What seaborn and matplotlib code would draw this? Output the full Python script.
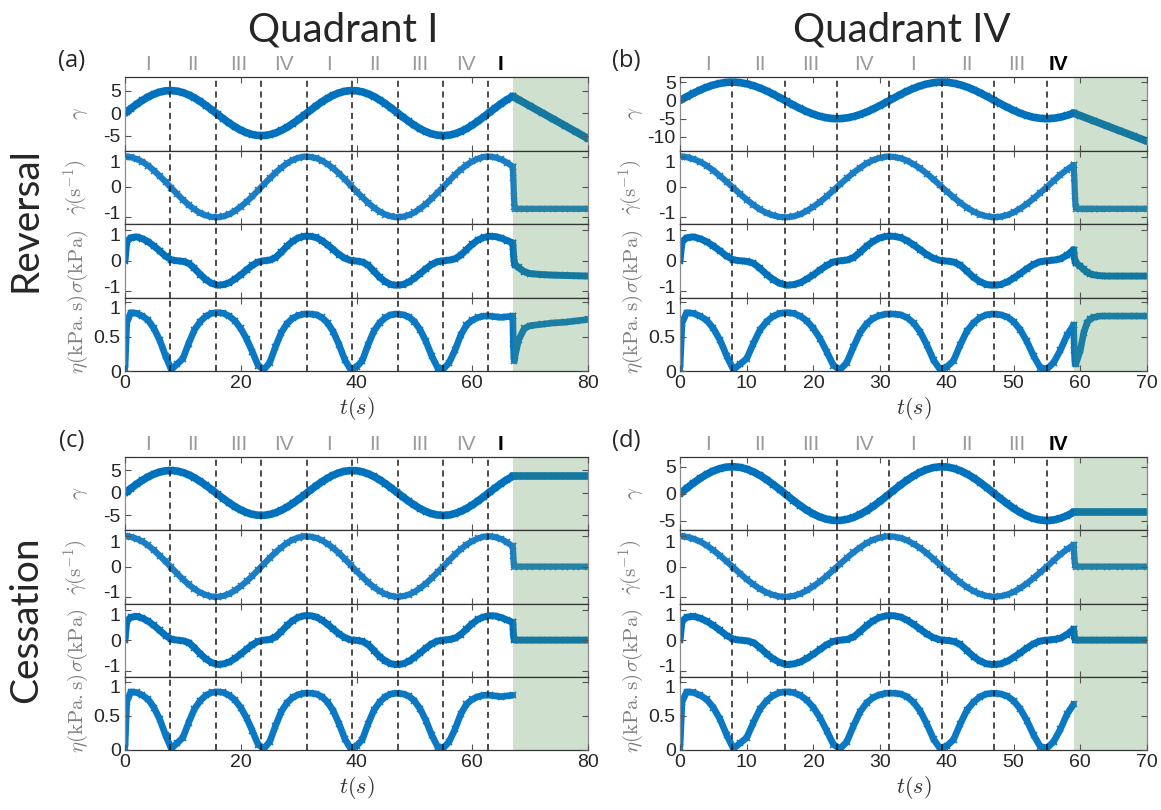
import numpy as np
import matplotlib
matplotlib.use("Agg")
import matplotlib.pyplot as plt
import matplotlib.transforms as mtransforms
from matplotlib.ticker import FuncFormatter
import seaborn as sns

# ---- oscillatory part, shared by all four panels ----
t_cycle = np.r_[0.0, 0.3, np.arange(1, 68)]

gamma_cycle = [0.00, 0.30,
               0.99, 1.95, 2.82, 3.59, 4.21, 4.66, 4.93, 5.00, 4.87,
               4.55, 4.04, 3.38, 2.58, 1.67, 0.71, -0.29, -1.28, -2.21, -3.06,
               -3.78, -4.36, -4.76, -4.97, -4.98, -4.79, -4.42, -3.86, -3.16, -2.32,
               -1.40, -0.42, 0.58, 1.56, 2.47, 3.28, 3.97, 4.49, 4.84, 4.99,
               4.95, 4.70, 4.27, 3.67, 2.92, 2.06, 1.11, 0.12, -0.87, -1.83,
               -2.72, -3.50, -4.14, -4.62, -4.90, -5.00, -4.90, -4.59, -4.11, -3.47,
               -2.68, -1.79, -0.83, 0.17, 1.15, 2.10, 2.96, 3.70]

gdot_cycle = [1.00, 1.00,
              0.98, 0.92, 0.83, 0.70, 0.54, 0.36, 0.17, -0.03, -0.23,
              -0.42, -0.59, -0.74, -0.86, -0.94, -0.99, -1.00, -0.97, -0.90, -0.79,
              -0.65, -0.49, -0.31, -0.11, 0.09, 0.28, 0.47, 0.63, 0.78, 0.89,
              0.96, 1.00, 0.99, 0.95, 0.87, 0.75, 0.61, 0.44, 0.25, 0.05,
              -0.15, -0.34, -0.52, -0.68, -0.81, -0.91, -0.97, -1.00, -0.98, -0.93,
              -0.84, -0.71, -0.56, -0.38, -0.19, 0.00, 0.20, 0.40, 0.57, 0.72,
              0.84, 0.93, 0.99, 1.00, 0.97, 0.91, 0.80, 0.67]

sigma_cycle = [0.00, 0.62,
               0.75, 0.78, 0.72, 0.62, 0.48, 0.32, 0.15, 0.03, 0.00,
               -0.02, -0.08, -0.25, -0.45, -0.62, -0.74, -0.80, -0.78, -0.72, -0.60,
               -0.46, -0.30, -0.15, -0.04, 0.00, 0.02, 0.10, 0.28, 0.48, 0.64,
               0.75, 0.80, 0.80, 0.76, 0.66, 0.52, 0.36, 0.20, 0.08, 0.01,
               -0.01, -0.04, -0.14, -0.34, -0.54, -0.69, -0.78, -0.80, -0.78, -0.70,
               -0.57, -0.42, -0.26, -0.12, -0.03, 0.00, 0.02, 0.06, 0.18, 0.36,
               0.54, 0.68, 0.76, 0.80, 0.79, 0.74, 0.66, 0.58]

eta_cycle = [0.05, 0.70,
             0.85, 0.84, 0.80, 0.74, 0.62, 0.45, 0.22, 0.02, 0.10,
             0.18, 0.40, 0.60, 0.72, 0.80, 0.84, 0.85, 0.84, 0.80, 0.73,
             0.62, 0.47, 0.28, 0.08, 0.02, 0.12, 0.35, 0.56, 0.69, 0.77,
             0.81, 0.83, 0.83, 0.82, 0.78, 0.70, 0.57, 0.38, 0.16, 0.02,
             0.06, 0.15, 0.38, 0.58, 0.70, 0.78, 0.82, 0.83, 0.82, 0.79,
             0.72, 0.60, 0.43, 0.22, 0.05, 0.03, 0.12, 0.30, 0.52, 0.67,
             0.74, 0.78, 0.80, 0.80, 0.79, 0.78, 0.79, 0.80]

# switch times (start of shaded region)
t_switch_q1 = 67.0
t_switch_q4 = 59.0

# quarter-period marks
phase_marks_q1 = [7.85, 15.7, 23.55, 31.4, 39.25, 47.1, 54.95, 62.8]
phase_marks_q4 = [7.85, 15.7, 23.55, 31.4, 39.25, 47.1, 54.95]

quad_labels_q1 = ["I", "II", "III", "IV", "I", "II", "III", "IV", "I"]
quad_pos_q1 = [3.9, 11.8, 19.6, 27.5, 35.3, 43.2, 51.0, 58.9, 64.9]
quad_labels_q4 = ["I", "II", "III", "IV", "I", "II", "III", "IV"]
quad_pos_q4 = [4.2, 12.0, 19.6, 27.5, 35.0, 43.0, 50.5, 56.8]

# ---- after the switch ----
# (a) reversal, quadrant I
rev1_t_gamma = [67.0, 68, 70, 72, 74, 76, 78, 80]
rev1_gamma = [3.70, 2.98, 1.54, 0.10, -1.34, -2.78, -4.22, -5.66]
rev1_t = [67.0, 67.1, 67.2, 67.3, 67.4, 68, 69, 70, 72, 74, 76, 78, 80]
rev1_gdot = [0.67, 0.30, -0.30, -0.65, -0.72, -0.72, -0.72, -0.72, -0.72, -0.72, -0.72, -0.72, -0.72]
rev1_sigma = [0.58, 0.30, 0.05, -0.08, -0.14, -0.22, -0.36, -0.42, -0.45, -0.47, -0.48, -0.49, -0.50]
rev1_eta = [0.80, 0.40, 0.18, 0.15, 0.22, 0.45, 0.62, 0.66, 0.68, 0.70, 0.71, 0.73, 0.75]

# (b) reversal, quadrant IV
rev4_t_gamma = [59.0, 60, 62, 64, 66, 68, 70]
rev4_gamma = [-3.47, -4.17, -5.57, -6.97, -8.37, -9.77, -11.17]
rev4_t = [59.0, 59.1, 59.2, 59.3, 59.4, 60, 60.5, 61, 61.5, 62, 63, 64, 66, 68, 70]
rev4_gdot = [0.72, 0.30, -0.30, -0.65, -0.72, -0.72, -0.72, -0.72, -0.72, -0.72, -0.72, -0.72, -0.72, -0.72, -0.72]
rev4_sigma = [0.36, 0.15, -0.02, -0.06, -0.08, -0.18, -0.28, -0.37, -0.43, -0.46, -0.49, -0.50, -0.50, -0.50, -0.50]
rev4_eta = [0.67, 0.30, 0.12, 0.10, 0.12, 0.30, 0.55, 0.70, 0.76, 0.78, 0.80, 0.80, 0.80, 0.80, 0.80]

# (c) cessation, quadrant I
ces1_t = [67.0, 67.1, 67.2, 67.3, 68, 70, 72, 74, 76, 78, 80]
ces1_gamma = [3.70, 3.70, 3.70, 3.70, 3.70, 3.70, 3.70, 3.70, 3.70, 3.70, 3.70]
ces1_gdot = [0.67, 0.35, 0.05, 0.00, 0.00, 0.00, 0.00, 0.00, 0.00, 0.00, 0.00]
ces1_sigma = [0.58, 0.25, 0.05, 0.00, 0.00, 0.00, 0.00, 0.00, 0.00, 0.00, 0.00]

# (d) cessation, quadrant IV
ces4_t = [59.0, 59.1, 59.2, 59.3, 60, 62, 64, 66, 68, 70]
ces4_gamma = [-3.47, -3.47, -3.47, -3.47, -3.47, -3.47, -3.47, -3.47, -3.47, -3.47]
ces4_gdot = [0.72, 0.35, 0.05, 0.00, 0.00, 0.00, 0.00, 0.00, 0.00, 0.00]
ces4_sigma = [0.36, 0.15, 0.02, 0.00, 0.00, 0.00, 0.00, 0.00, 0.00, 0.00]

# ---- style ----
sns.set_theme(style="ticks")
plt.rcParams["font.family"] = ["Liberation Sans", "DejaVu Sans"]
plt.rcParams["mathtext.fontset"] = "cm"
plt.rcParams["axes.unicode_minus"] = False

ROW_COLORS = ["#0072BD", "#1a7ec6", "#0072BD", "#0a78c2"]
GREEN = "#4f8f4f"
GREY_TXT = "#7f7f7f"
ROW_LW = [5.5, 4.5, 5.0, 4.8]
YLABELS = [r"$\gamma$", r"$\dot{\gamma}(\mathrm{s}^{-1})$",
           r"$\sigma(\mathrm{kPa})$", r"$\eta(\mathrm{kPa.s})$"]

W, H = 1161, 810
fig = plt.figure(figsize=(W / 100, H / 100), dpi=100)
NUDGE_DOWN = mtransforms.ScaledTranslation(0, -3.5 / 72, fig.dpi_scale_trans)
NUDGE_UP = mtransforms.ScaledTranslation(0, 3.5 / 72, fig.dpi_scale_trans)


def curve(ax, t, y, lw, color):
    sns.lineplot(x=t, y=y, ax=ax, color=color, lw=lw, marker="x",
                 markersize=5, markeredgewidth=1.2, markeredgecolor=color,
                 estimator=None, sort=False, zorder=2)


def draw_panel(px_left, px_right, px_top, px_bottom, tag, t_sw, xmax, xticks,
               g_ticks, g_lim, marks, qpos, qlab, post):
    left = px_left / W
    width = (px_right - px_left) / W
    h = (px_bottom - px_top) / H / 4
    bottom = 1 - px_bottom / H
    keep = t_cycle <= t_sw + 1e-9
    cyc = [np.asarray(a)[keep] for a in (gamma_cycle, gdot_cycle, sigma_cycle, eta_cycle)]
    lims = [g_lim, (-1.22, 1.2), (-1.2, 1.2), (0, 1.07)]
    yticks = [g_ticks, [-1, 0, 1], [-1, 0, 1], [0, 0.5, 1]]
    axes = []
    for i in range(4):
        ax = fig.add_axes([left, bottom + (3 - i) * h, width, h])
        curve(ax, t_cycle[keep], cyc[i], ROW_LW[i], ROW_COLORS[i])
        if post[i] is not None:
            curve(ax, post[i][0], post[i][1], ROW_LW[i], ROW_COLORS[i])
        for m in marks:
            ax.axvline(m, color="k", lw=1.1, ls=(0, (4, 3)), zorder=2.1)
        ax.axvspan(t_sw, xmax, facecolor=GREEN, alpha=0.27, lw=0, zorder=2.2)
        ax.set_xlim(0, xmax)
        ax.set_ylim(*lims[i])
        ax.set_yticks(yticks[i])
        ax.yaxis.set_major_formatter(FuncFormatter(lambda v, p: f"{v:g}"))
        ax.set_xticks(xticks)
        ax.set_axisbelow(False)
        ax.tick_params(direction="in", top=True, right=True, length=4, width=0.8,
                       colors="#555555", labelcolor="#262626", labelsize=14, pad=3)
        for s in ("left", "right"):
            ax.spines[s].set_color("#8c8c8c")
        for s in ("top", "bottom"):
            ax.spines[s].set_color("#333333")
        for s in ax.spines.values():
            s.set_linewidth(0.9)
        ax.set_ylabel(YLABELS[i], fontsize=15, color=GREY_TXT)
        ax.yaxis.set_label_coords(-0.075, 0.5)
        ax.set_xlabel("")
        if i < 3:
            ax.tick_params(labelbottom=False)
        # nudge the +-1 labels at the seams a few pixels inward
        yt = ax.yaxis.get_major_ticks()
        if i in (1, 2, 3):
            lab = yt[-1].label1
            lab.set_transform(lab.get_transform() + NUDGE_DOWN)
        if i in (1, 2):
            lab = yt[0].label1
            lab.set_transform(lab.get_transform() + NUDGE_UP)
        axes.append(ax)
    axes[3].set_xlabel(r"$t(s)$", fontsize=16, color="#333333", labelpad=2)
    top = axes[0]
    tr = mtransforms.blended_transform_factory(top.transData, top.transAxes)
    for j, (x, s) in enumerate(zip(qpos, qlab)):
        last = j == len(qlab) - 1
        top.text(x, 1.04, s, transform=tr, ha="center", va="bottom", fontsize=15,
                 color="black" if last else "#9a9a9a",
                 fontweight="bold" if last else "normal")
    top.text(-0.115, 1.05, tag, transform=top.transAxes, ha="center", va="bottom",
             fontsize=17, family=["Open Sans", "DejaVu Sans"])
    return axes


draw_panel(125, 588, 77, 371, "(a)", t_switch_q1, 80, [0, 20, 40, 60, 80],
           [-5, 0, 5], (-8.3, 8.0), phase_marks_q1, quad_pos_q1, quad_labels_q1,
           [(rev1_t_gamma, rev1_gamma), (rev1_t, rev1_gdot),
            (rev1_t, rev1_sigma), (rev1_t, rev1_eta)])
draw_panel(680, 1147, 77, 371, "(b)", t_switch_q4, 70, list(range(0, 71, 10)),
           [-10, -5, 0, 5], (-13.7, 6.4), phase_marks_q4, quad_pos_q4, quad_labels_q4,
           [(rev4_t_gamma, rev4_gamma), (rev4_t, rev4_gdot),
            (rev4_t, rev4_sigma), (rev4_t, rev4_eta)])
draw_panel(125, 588, 457, 750, "(c)", t_switch_q1, 80, [0, 20, 40, 60, 80],
           [-5, 0, 5], (-8.3, 8.0), phase_marks_q1, quad_pos_q1, quad_labels_q1,
           [(ces1_t, ces1_gamma), (ces1_t, ces1_gdot), (ces1_t, ces1_sigma), None])
draw_panel(680, 1147, 457, 750, "(d)", t_switch_q4, 70, list(range(0, 71, 10)),
           [-5, 0, 5], (-6.8, 6.8), phase_marks_q4, quad_pos_q4, quad_labels_q4,
           [(ces4_t, ces4_gamma), (ces4_t, ces4_gdot), (ces4_t, ces4_sigma), None])

title_font = ["Lato", "DejaVu Sans"]
fig.text(343 / W, 1 - 30 / H, "Quadrant I", ha="center", va="center", fontsize=29, family=title_font)
fig.text(902 / W, 1 - 30 / H, "Quadrant IV", ha="center", va="center", fontsize=29, family=title_font)
fig.text(26 / W, 1 - 220 / H, "Reversal", ha="center", va="center", rotation=90, fontsize=28, family=title_font)
fig.text(26 / W, 1 - 620 / H, "Cessation", ha="center", va="center", rotation=90, fontsize=28, family=title_font)

fig.savefig("out.png", dpi=100)
